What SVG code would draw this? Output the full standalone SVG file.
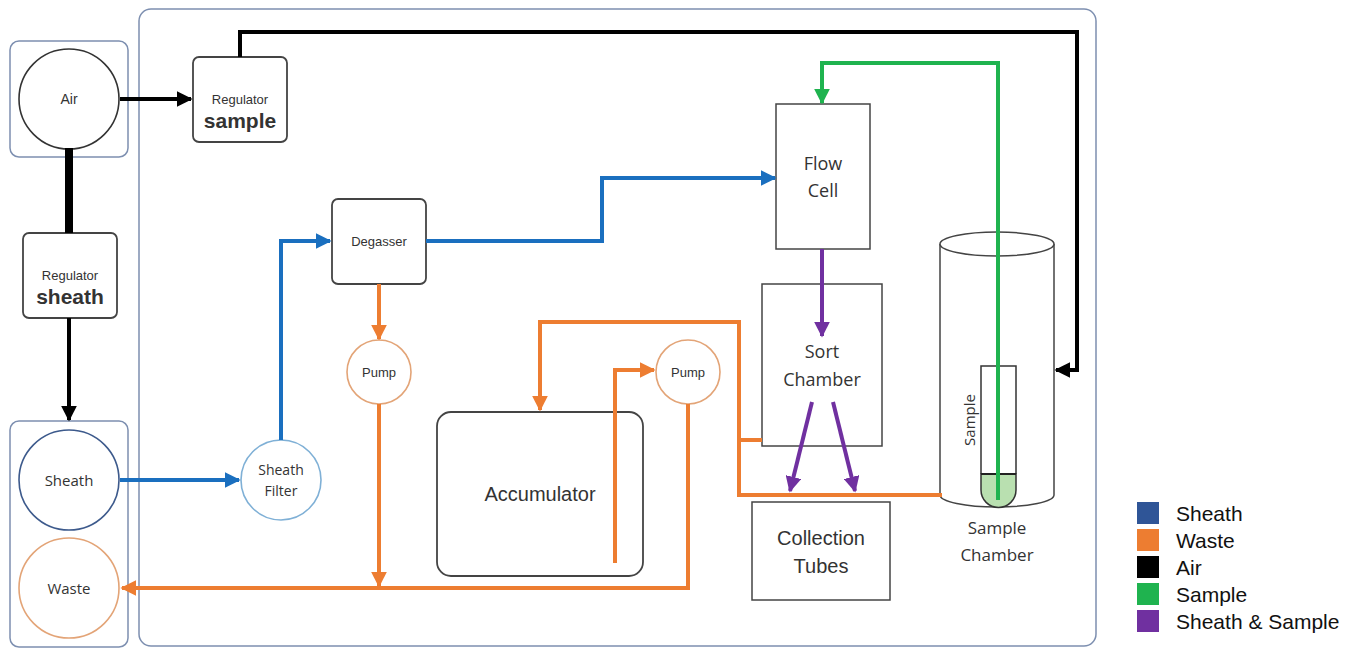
<svg xmlns="http://www.w3.org/2000/svg" width="1371" height="649" viewBox="0 0 1371 649">
<defs>
<style>
.frame{fill:none;stroke:#7d8fb0;stroke-width:1.5}
.box{fill:#fff;stroke:#444;stroke-width:1.8}
.sbox{fill:#fff;stroke:#444;stroke-width:1.5}
.ln{fill:none;stroke-width:4;stroke-linejoin:miter}
.blk{stroke:#000}.blu{stroke:#1a6fbf}.org{stroke:#ed7d31}.grn{stroke:#1fb34f}.pur{stroke:#7030a0}
.a{font-family:"Liberation Sans",Arial,sans-serif;fill:#333;text-anchor:middle}
.o{font-family:"Open Sans","Liberation Sans",sans-serif;fill:#333;text-anchor:middle}
.lg{font-family:"Liberation Sans",Arial,sans-serif;fill:#111;font-size:21px}
</style>
<marker id="mB" viewBox="0 0 10 10" refX="9" refY="5" markerWidth="4" markerHeight="4" orient="auto" markerUnits="strokeWidth"><path d="M0,0 L10,5 L0,10 z" fill="#000"/></marker>
<marker id="mBl" viewBox="0 0 10 10" refX="9" refY="5" markerWidth="4" markerHeight="4" orient="auto" markerUnits="strokeWidth"><path d="M0,0 L10,5 L0,10 z" fill="#1a6fbf"/></marker>
<marker id="mO" viewBox="0 0 10 10" refX="9" refY="5" markerWidth="4" markerHeight="4" orient="auto" markerUnits="strokeWidth"><path d="M0,0 L10,5 L0,10 z" fill="#ed7d31"/></marker>
<marker id="mG" viewBox="0 0 10 10" refX="9" refY="5" markerWidth="4" markerHeight="4" orient="auto" markerUnits="strokeWidth"><path d="M0,0 L10,5 L0,10 z" fill="#1fb34f"/></marker>
<marker id="mP" viewBox="0 0 10 10" refX="9" refY="5" markerWidth="4" markerHeight="4" orient="auto" markerUnits="strokeWidth"><path d="M0,0 L10,5 L0,10 z" fill="#7030a0"/></marker>
</defs>
<rect width="1371" height="649" fill="#fff"/>

<g id="frames">
<rect class="frame" x="139" y="9" width="957" height="637" rx="12"/>
<rect class="frame" x="10" y="41" width="118" height="116" rx="9"/>
<rect class="frame" x="10" y="421" width="118" height="226" rx="9"/>
</g>

<g id="air"><circle cx="69" cy="99" r="50" fill="#fff" stroke="#333" stroke-width="1.6"/><text class="a" x="69" y="104" font-size="14">Air</text></g>
<g id="regulator-sample"><rect class="box" x="193" y="57" width="94" height="85" rx="6"/><text class="a" x="240" y="104" font-size="13">Regulator</text><text class="a" x="240" y="128" font-size="21" font-weight="bold" fill="#222">sample</text></g>
<g id="regulator-sheath"><rect class="box" x="23" y="233" width="94" height="85" rx="6"/><text class="a" x="70" y="280" font-size="13">Regulator</text><text class="a" x="70" y="304" font-size="21" font-weight="bold" fill="#222">sheath</text></g>
<g id="sheath"><circle cx="69" cy="480" r="50" fill="#fff" stroke="#3d5a8c" stroke-width="1.6"/><text class="o" x="69" y="486" font-size="15">Sheath</text></g>
<g id="waste"><circle cx="69" cy="588" r="50" fill="#fff" stroke="#e3a477" stroke-width="1.6"/><text class="o" x="69" y="594" font-size="15">Waste</text></g>
<g id="sheath-filter"><circle cx="281" cy="480" r="40" fill="#fff" stroke="#7fb0d6" stroke-width="1.6"/><text class="o" x="281" y="475" font-size="14">Sheath</text><text class="o" x="281" y="496" font-size="14">Filter</text></g>
<g id="degasser"><rect class="box" x="332" y="199" width="94" height="85" rx="6"/><text class="a" x="379" y="246" font-size="13">Degasser</text></g>
<g id="pump1"><circle cx="379" cy="372" r="32" fill="#fff" stroke="#e3a477" stroke-width="1.6"/><text class="a" x="379" y="377" font-size="13">Pump</text></g>
<g id="pump2"><circle cx="688" cy="372" r="32" fill="#fff" stroke="#e3a477" stroke-width="1.6"/><text class="a" x="688" y="377" font-size="13">Pump</text></g>
<g id="accumulator"><rect class="box" x="437" y="412" width="206" height="164" rx="14"/><text class="a" x="540" y="501" font-size="20" fill="#222">Accumulator</text></g>
<g id="flow-cell"><rect class="sbox" x="776" y="104" width="94" height="145"/><text class="o" x="823" y="170" font-size="18">Flow</text><text class="o" x="823" y="197" font-size="18">Cell</text></g>
<g id="sort-chamber"><rect class="sbox" x="762" y="284" width="120" height="162"/><text class="o" x="822" y="358" font-size="18">Sort</text><text class="o" x="822" y="386" font-size="18">Chamber</text></g>
<g id="collection-tubes"><rect class="sbox" x="752" y="502" width="138" height="98"/><text class="a" x="821" y="545" font-size="20" fill="#222">Collection</text><text class="a" x="821" y="573" font-size="20" fill="#222">Tubes</text></g>
<g id="sample-chamber">
<path d="M940,244 V495 A57,12 0 0 0 1054,495 V244" fill="#fff" stroke="#444" stroke-width="1.5"/>
<ellipse cx="997" cy="244" rx="57" ry="12" fill="#fff" stroke="#444" stroke-width="1.5"/>
<path d="M981,474 H1016 V490 A17.5,17.5 0 0 1 981,490 Z" fill="#b9e0b0" stroke="#333" stroke-width="1.5"/>
<path d="M981,474 V366 H1016 V474" fill="none" stroke="#333" stroke-width="1.5"/>
<line x1="981" y1="474" x2="1016" y2="474" stroke="#222" stroke-width="2"/>
<text class="o" x="0" y="0" font-size="15" transform="translate(975,420) rotate(-90)">Sample</text>
<text class="o" x="997" y="534" font-size="17">Sample</text>
<text class="o" x="997" y="561" font-size="17">Chamber</text>
</g>

<g id="connectors">
<path class="ln blk" d="M120,99 H191" marker-end="url(#mB)"/>
<path class="ln blk" d="M240,57 V32 H1077 V370 H1056" marker-end="url(#mB)"/>
<path class="ln blk" d="M69,148 V233" style="stroke-width:8"/>
<path class="ln blk" d="M69,318 V420" marker-end="url(#mB)"/>
<path class="ln blu" d="M120,480 H239" marker-end="url(#mBl)"/>
<path class="ln blu" d="M281,440 V241 H330" marker-end="url(#mBl)"/>
<path class="ln blu" d="M426,241 H602 V178 H775" marker-end="url(#mBl)"/>
<path class="ln grn" d="M998,500 V63 H822 V103" marker-end="url(#mG)"/>
<path class="ln pur" d="M822,249 V336" marker-end="url(#mP)"/>
<path class="ln pur" d="M812,402 L790,491" marker-end="url(#mP)"/>
<path class="ln pur" d="M833,402 L855,491" marker-end="url(#mP)"/>
<path class="ln org" d="M379,284 V339" marker-end="url(#mO)"/>
<path class="ln org" d="M379,404 V586" marker-end="url(#mO)"/>
<path class="ln org" d="M688,404 V588 H122" marker-end="url(#mO)"/>
<path class="ln org" d="M615,563 V370 H654" marker-end="url(#mO)"/>
<path class="ln org" d="M739,440 V322 H540 V410" marker-end="url(#mO)"/>
<path class="ln org" d="M762,440 H739 V495 H942"/>
</g>

<g id="legend">
<rect x="1137" y="502" width="22" height="22" fill="#2f5597"/><text class="lg" x="1176" y="521">Sheath</text>
<rect x="1137" y="529" width="22" height="22" fill="#ed7d31"/><text class="lg" x="1176" y="548">Waste</text>
<rect x="1137" y="556" width="22" height="22" fill="#000"/><text class="lg" x="1176" y="575">Air</text>
<rect x="1137" y="583" width="22" height="22" fill="#1fb34f"/><text class="lg" x="1176" y="602">Sample</text>
<rect x="1137" y="610" width="22" height="22" fill="#7030a0"/><text class="lg" x="1176" y="629">Sheath &amp; Sample</text>
</g>
</svg>
